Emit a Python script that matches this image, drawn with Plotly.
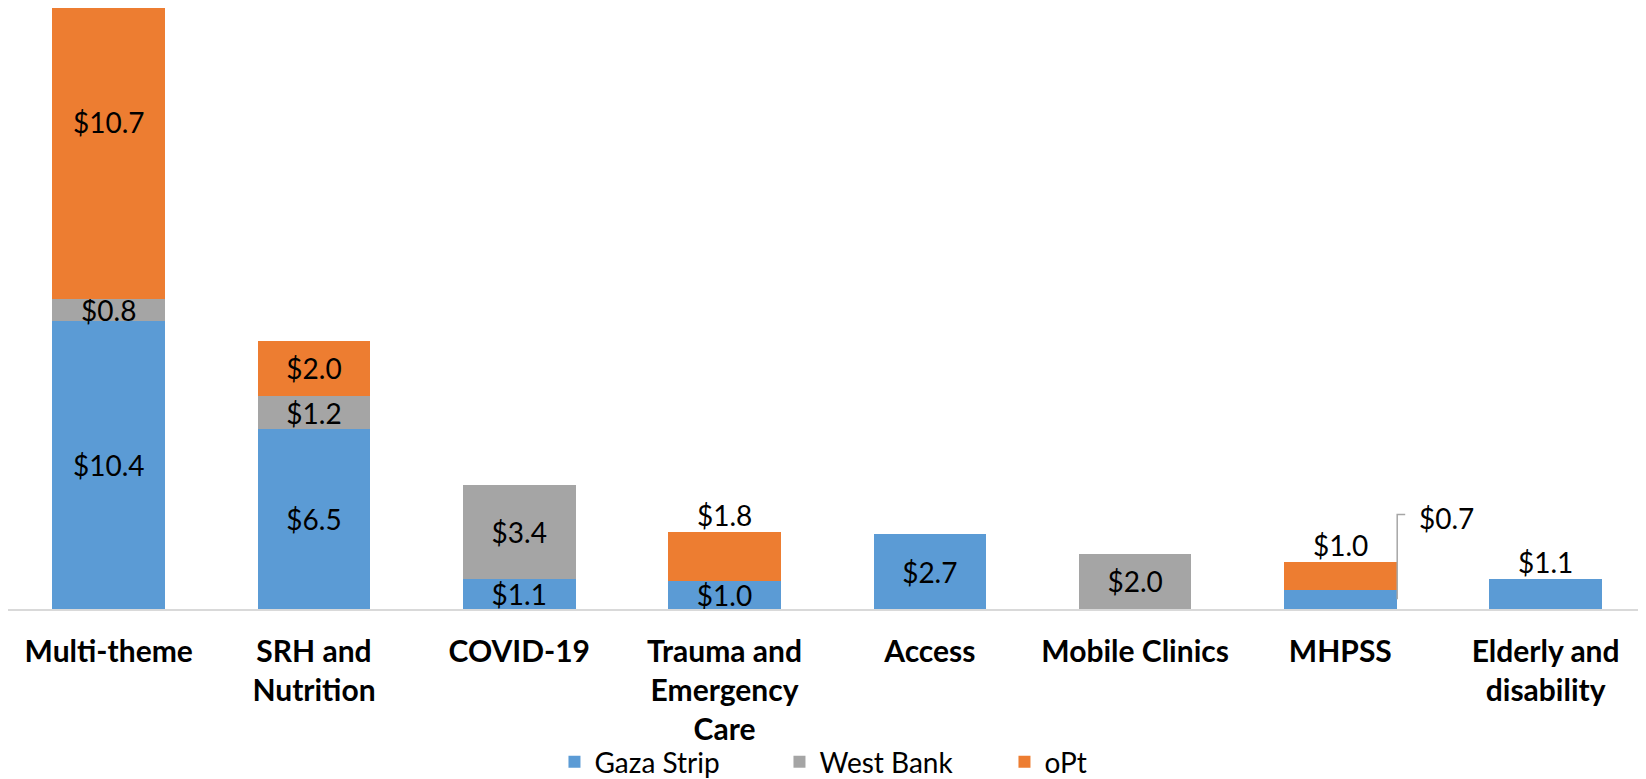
import plotly.graph_objects as go

categories = ["Multi-theme", "SRH and<br>Nutrition", "COVID-19", "Trauma and<br>Emergency<br>Care",
              "Access", "Mobile Clinics", "MHPSS", "Elderly and<br>disability"]
gaza = [10.4, 6.5, 1.1, 1.0, 2.7, None, 0.7, 1.1]
west_bank = [0.8, 1.2, 3.4, None, None, 2.0, None, None]
opt = [10.7, 2.0, None, 1.8, None, None, 1.0, None]

# label placement per point: "in" = centred inside, "out" = above bar top, "lead" = leader line, "man" = manual
gaza_pos = ["in", "in", "in", "in", "in", None, "lead", "out"]
wb_pos = ["in", "in", "in", None, None, "in", None, None]
opt_pos = ["man", "in", None, "out", None, None, "out", None]

colors = {"Gaza Strip": "#5B9BD5", "West Bank": "#A5A5A5", "oPt": "#ED7D31"}
FONT = "Lato"
LABEL_SIZE = 28

xidx = list(range(len(categories)))
fig = go.Figure()
annotations = []
shapes = []


def fmt(v):
    return f"${v:.1f}"


stack_base = [0.0] * len(categories)
for name, vals, pos in [("Gaza Strip", gaza, gaza_pos), ("West Bank", west_bank, wb_pos), ("oPt", opt, opt_pos)]:
    texts = []
    tpos = []
    for i, (v, p) in enumerate(zip(vals, pos)):
        if v is not None and p == "in":
            texts.append(fmt(v))
            tpos.append("inside")
        else:
            texts.append("")
            tpos.append("none")
        if v is not None:
            top = stack_base[i] + v
            if p == "out":
                annotations.append(dict(x=i, y=top, xref="x", yref="y", text=fmt(v), showarrow=False,
                                        yanchor="bottom", yshift=-2,
                                        font=dict(family=FONT, size=LABEL_SIZE, color="black")))
            elif p == "man":
                annotations.append(dict(x=i, y=stack_base[i] + v * 0.6, xref="x", yref="y", text=fmt(v),
                                        showarrow=False, yanchor="middle",
                                        font=dict(family=FONT, size=LABEL_SIZE, color="black")))
            elif p == "lead":
                mid = stack_base[i] + v / 2
                shapes.append(dict(type="path", xref="x", yref="y",
                                   path=f"M {i+0.277},{mid} L {i+0.277},3.42 L {i+0.316},3.42",
                                   line=dict(color="#A6A6A6", width=1.5)))
                annotations.append(dict(x=i + 0.372, y=3.30, xref="x", yref="y", text=fmt(v),
                                        showarrow=False, xanchor="left", yanchor="middle",
                                        font=dict(family=FONT, size=LABEL_SIZE, color="black")))
            stack_base[i] = top
    fig.add_trace(go.Bar(
        name=name, x=xidx, y=vals, marker=dict(color=colors[name], line=dict(width=0)),
        text=texts, textposition=tpos, insidetextanchor="middle", constraintext="none",
        textfont=dict(family=FONT, size=LABEL_SIZE, color="black"),
        insidetextfont=dict(family=FONT, size=LABEL_SIZE, color="black"),
        hoverinfo="skip",
    ))

fig.update_layout(
    barmode="stack",
    bargap=0.452,
    width=1646, height=779,
    margin=dict(l=0, r=0, t=0, b=178, autoexpand=False),
    plot_bgcolor="white", paper_bgcolor="white",
    font=dict(family=FONT, color="black"),
    showlegend=True,
    legend=dict(orientation="h", x=0.332, xanchor="left", y=-0.2546, yanchor="middle",
                bgcolor="rgba(0,0,0,0)",
                font=dict(family=FONT, size=28, color="black"), entrywidth=180,
                traceorder="normal", itemclick=False, itemdoubleclick=False),
    annotations=annotations,
    shapes=shapes,
)
fig.update_xaxes(tickmode="array", tickvals=xidx, ticktext=[f"<b>{c}</b>" for c in categories],
                 range=[-0.4906, 7.528], showline=True, linecolor="#D9D9D9", linewidth=2,
                 showgrid=False, zeroline=False, ticks="", ticklabelstandoff=15, automargin=False,
                 tickfont=dict(family=FONT, size=30, color="black"))
fig.update_yaxes(range=[0, 21.74], visible=False, showgrid=False, zeroline=False, automargin=False)

fig.write_html("out.html")
